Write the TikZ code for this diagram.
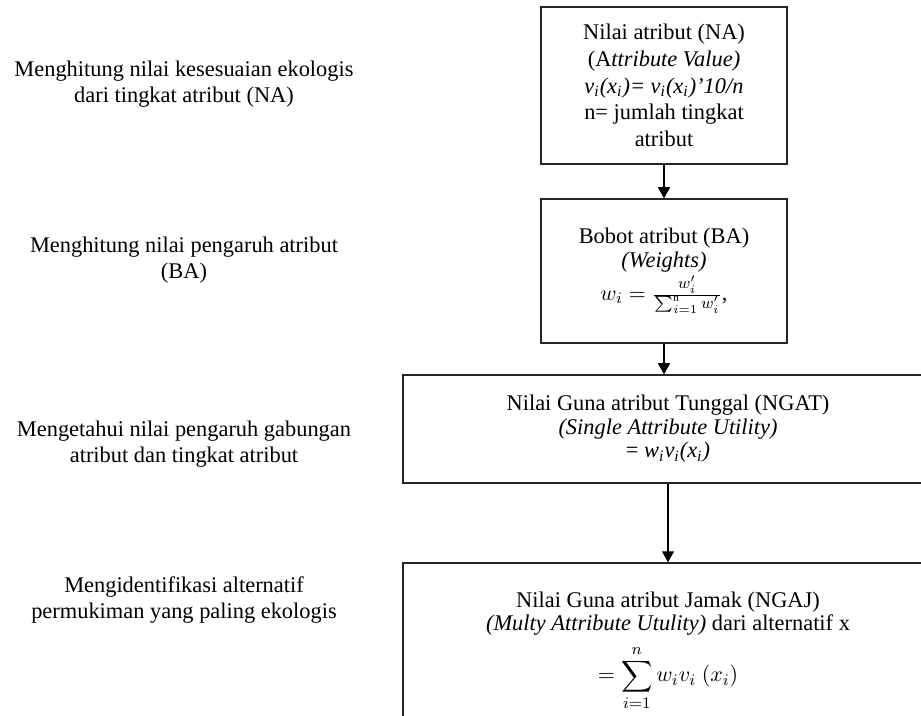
\documentclass[tikz,border=0pt]{standalone}
\usepackage{amsmath}
\usepackage{fontspec}
\setmainfont{Liberation Serif}
\usepackage{tikz}
\usetikzlibrary{arrows.meta}
\tikzstyle{prosesbox} = [draw=black!85, line width=0.75pt, fill=white,
    rectangle, align=center, inner sep=0pt, minimum width=123pt,
    font=\fontsize{11.2}{11.8}\selectfont]
\tikzstyle{ketnode} = [align=center, inner sep=0pt,
    font=\fontsize{11.2}{13.2}\selectfont]
\tikzstyle{panah} = [draw=black, line width=0.75pt, -{Triangle[length=5.5pt, width=6pt]}]

\begin{document}
\begin{tikzpicture}[x=0.5pt, y=-0.5pt]
                \useasboundingbox (0,0) rectangle (921,716);
                \node [ketnode] (ketna) at (184,84) {Menghitung nilai kesesuaian ekologis\\dari tingkat atribut (NA)};
                \node [ketnode] (ketba) at (184,260) {Menghitung nilai pengaruh atribut\\(BA)};
                \node [ketnode] (ketngat) at (184,444) {Mengetahui nilai pengaruh gabungan\\atribut dan tingkat atribut};
                \node [ketnode] (ketngaj) at (184,600) {Mengidentifikasi alternatif\\permukiman yang paling ekologis};
                \node [prosesbox, minimum height=78.5pt, font=\fontsize{11.2}{13.4}\selectfont] (na) at (664,85.5) {%
                    Nilai atribut (NA)\\
                    (A\textit{ttribute Value)}\\
                    \textit{v\textsubscript{i}(x\textsubscript{i})= v\textsubscript{i}(x\textsubscript{i})’10/n}\\
                    n= jumlah tingkat\\
                    atribut};
                \node [prosesbox, minimum height=72pt] (ba) at (664,271) {%
                    Bobot atribut (BA)\\
                    \textit{(Weights)}\\[1pt]
                    $w_i = \frac{w'_i}{\sum_{i=1}^{\mathrm{n}} w'_i}$,};
                \node [prosesbox, minimum width=265pt, minimum height=54pt] (ngat) at (668,429) {%
                    Nilai Guna atribut Tunggal (NGAT)\\
                    \textit{(Single Attribute Utility)}\\
                    = \textit{w\textsubscript{i}v\textsubscript{i}(x\textsubscript{i})}};
                \node [prosesbox, minimum width=265pt, minimum height=88pt] (ngaj) at (668,651) {%
                    Nilai Guna atribut Jamak (NGAJ)\\
                    \textit{(Multy Attribute Utulity)} dari alternatif x\\[4pt]
                    $\displaystyle = \sum_{i=1}^{n} w_i v_i\ (x_i)$};
                \draw [panah] (na.south) -- (ba.north);
                \draw [panah] (ba.south) -- (ba.south |- ngat.north);
                \draw [panah] (ngat.south) -- (ngaj.north);
            \end{tikzpicture}
\end{document}
